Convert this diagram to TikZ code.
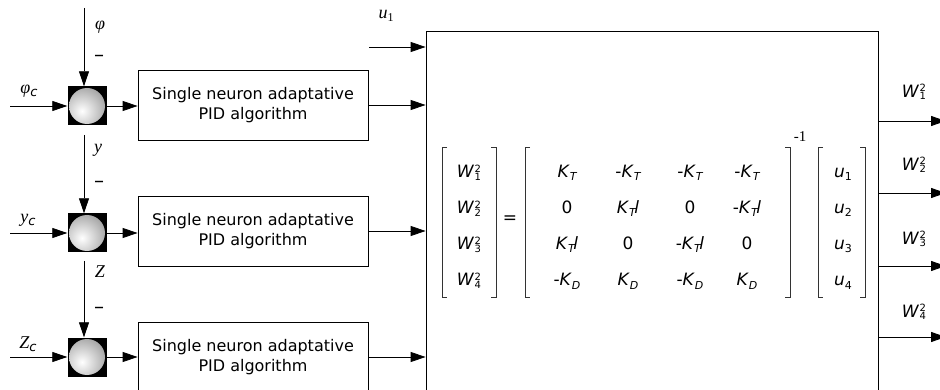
\documentclass[tikz,border=0pt]{standalone}
\usepackage{fontspec}
\setmainfont{DejaVu Sans}
\newfontfamily\lserif{Liberation Serif}
\usetikzlibrary{arrows.meta}
\newcommand\Wv[1]{\textit{W}\kern0.5pt\rlap{\raisebox{5.6pt}{\fontsize{10}{10}\selectfont 2}}\raisebox{-2.2pt}{\fontsize{10}{10}\selectfont #1}}
\newcommand\Ksub[1]{\textit{K}\raisebox{-3pt}{\fontsize{11}{11}\selectfont\itshape #1}}
\newcommand\uv[1]{\textit{u}\raisebox{-3pt}{\fontsize{11}{11}\selectfont #1}}
\newcommand\KTl{\Ksub{T}\kern-1.5pt\textit{l}}
\begin{document}
\begin{tikzpicture}[x=1pt,y=-1pt,
  arr/.style={-{Triangle[length=15pt,width=10pt]}, line width=0.8pt},
  pidbox/.style={draw, line width=0.8pt, minimum width=230pt, minimum height=70pt, align=center, font=\fontsize{16}{20}\selectfont, inner sep=0pt},
  junc/.style={fill=black, minimum size=39pt, inner sep=0pt},
  lbl/.style={font=\fontsize{18}{20}\selectfont\lserif\itshape, inner sep=0pt},
  ent/.style={font=\fontsize{17}{20}\selectfont, anchor=base, inner sep=0pt},
  brk/.style={line width=0.6pt, draw=black!80},
  bigbox/.style={draw, line width=0.8pt, minimum width=452pt, minimum height=369pt, inner sep=0pt},
  minus/.style={font=\fontsize{20}{20}\selectfont, inner sep=0pt}
]
\useasboundingbox (0,0) rectangle (940,390);

% big box
\node[bigbox] (B) at (652,215.5) {};

% junctions
\foreach \n/\yy in {1/106,2/233,3/357}{
  \node[junc] (j\n) at (87,\yy) {};
  \begin{scope}
    \clip (j\n.center) circle (18pt);
    \shade[inner color=white, outer color=gray!75] ([shift={(-5pt,-5pt)}]j\n.center) circle (27pt);
  \end{scope}
}

% PID boxes
\node[pidbox] (p1) at (253,105) {Single neuron adaptative\\PID algorithm};
\node[pidbox] (p2) at (253,231) {Single neuron adaptative\\PID algorithm};
\node[pidbox] (p3) at (253,357) {Single neuron adaptative\\PID algorithm};

% input arrows
\coordinate (i1) at (10,106);
\coordinate (i2) at (10,233);
\coordinate (i3) at (10,357);
\draw[arr] (i1) -- (j1.west);
\draw[arr] (i2) -- (j2.west);
\draw[arr] (i3) -- (j3.west);

% vertical feedback arrows
\coordinate (t1) at (84,8);
\coordinate (t2) at (84,135);
\coordinate (t3) at (84,261);
\draw[arr] (t1) -- (t1 |- j1.north);
\draw[arr] (t2) -- (t2 |- j2.north);
\draw[arr] (t3) -- (t3 |- j3.north);

% junction to PID
\draw[arr] (j1.east) -- (j1.east -| p1.west);
\draw[arr] (j2.east) -- (j2.east -| p2.west);
\draw[arr] (j3.east) -- (j3.east -| p3.west);

% PID to big box
\draw[arr] (p1.east) -- (p1.east -| B.west);
\draw[arr] (p2.east) -- (p2.east -| B.west);
\draw[arr] (p3.east) -- (p3.east -| B.west);

% u1
\coordinate (us) at (369,47);
\draw[arr] (us) -- (us -| B.west);
\node[lbl] (lu1) at (386,16) {u\raisebox{-3pt}{\fontsize{12}{12}\selectfont\upshape 1}};

% labels left
\node[lbl] (lphi) at (100,27) {φ};
\node[minus] (m1) at (99,58) {–};
\node[lbl] (ly) at (98,150) {y};
\node[minus] (m2) at (99,184) {–};
\node[lbl] (lz) at (100,272) {Z};
\node[minus] (m3) at (99,310) {–};
\node[lbl] (lphic) at (29,91) {φ\raisebox{-3pt}{\fontsize{13}{13}\normalfont\selectfont\itshape c}};
\node[lbl] (lyc) at (28,220) {y\raisebox{-3pt}{\fontsize{13}{13}\normalfont\selectfont\itshape c}};
\node[lbl] (lzc) at (28,344) {Z\raisebox{-3pt}{\fontsize{13}{13}\normalfont\selectfont\itshape c}};

% outputs
\foreach \n/\yy/\ly in {1/121/92,2/193/165,3/266/239,4/337/312}{
  \coordinate (o\n) at (946,\yy);
  \draw[arr] (o\n -| B.east) -- (o\n);
  \node[font=\fontsize{17}{20}\selectfont, inner sep=0pt] (w\n) at (914,\ly) {\Wv{\n}};
}

% brackets
\draw[brk] (447,147) -- (442,147) -- (442,297) -- (447,297);
\draw[brk] (491,147) -- (496,147) -- (496,297) -- (491,297);
\draw[brk] (530,147) -- (525,147) -- (525,297) -- (530,297);
\draw[brk] (785,147) -- (790,147) -- (790,297) -- (785,297);
\draw[brk] (823,147) -- (818,147) -- (818,297) -- (823,297);
\draw[brk] (860,147) -- (865,147) -- (865,297) -- (860,297);

% vector W
\node[ent] (v1) at (469,178) {\Wv{1}};
\node[ent] (v2) at (469,214) {\Wv{2}};
\node[ent] (v3) at (469,250) {\Wv{3}};
\node[ent] (v4) at (469,286) {\Wv{4}};

\node[font=\fontsize{17}{20}\selectfont, inner sep=0pt] (eq) at (510,220) {=};

% matrix
\node[ent] (a11) at (567,178) {\Ksub{T}};
\node[ent] (a12) at (628,178) {-\Ksub{T}};
\node[ent] (a13) at (690,178) {-\Ksub{T}};
\node[ent] (a14) at (747,178) {-\Ksub{T}};
\node[ent] (a21) at (567,214) {0};
\node[ent] (a22) at (628,214) {\KTl};
\node[ent] (a23) at (690,214) {0};
\node[ent] (a24) at (747,214) {-\KTl};
\node[ent] (a31) at (567,250) {\KTl};
\node[ent] (a32) at (628,250) {0};
\node[ent] (a33) at (690,250) {-\KTl};
\node[ent] (a34) at (747,250) {0};
\node[ent] (a41) at (567,286) {-\Ksub{D}};
\node[ent] (a42) at (628,286) {\Ksub{D}};
\node[ent] (a43) at (690,286) {-\Ksub{D}};
\node[ent] (a44) at (747,286) {\Ksub{D}};

\node[font=\fontsize{15}{15}\selectfont\lserif, inner sep=0pt] (inv) at (800,137) {-1};

% vector u
\node[ent] (u1) at (843,178) {\uv{1}};
\node[ent] (u2) at (843,214) {\uv{2}};
\node[ent] (u3) at (843,250) {\uv{3}};
\node[ent] (u4) at (843,286) {\uv{4}};
\end{tikzpicture}
\end{document}
